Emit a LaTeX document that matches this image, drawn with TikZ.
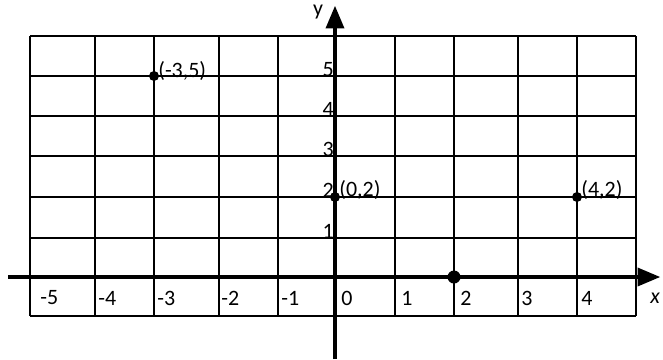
\documentclass[tikz,border=0pt]{standalone}
\usepackage{fontspec}
\setmainfont{Carlito}
\usepackage{tikz}
\usetikzlibrary{arrows}

\begin{document}
\begin{tikzpicture}[x=0.02cm,y=-0.02cm,
  gridline/.style={line width=1.05pt},
  axis/.style={line width=2pt,-triangle 45},
  lbl/.style={inner sep=0pt,font=\fontsize{12.5}{14}\selectfont},
  dot/.style={fill=black}]
\useasboundingbox (0,0) rectangle (663,359);
\foreach \x in {30,95,154,219,278,395,454,518,577,636}
  \draw[gridline] (\x,36) -- (\x,316);
\foreach \y in {36,76,116,156,197,238,316}
  \draw[gridline] (30,\y) -- (636,\y);
\draw[axis] (8,277) -- (660,277);
\draw[axis] (335,359) -- (335,6);
\node[lbl] (ylab) at (318,12) {y};
\node[lbl,anchor=west] (xlab) at (650,298) {\itshape x};
\foreach \x/\t in {40/-5,98/-4,157/-3,221/-2,281/-1,341/0,401/1,460/2,521/3,581/4}
  \node[lbl,anchor=west] at (\x,298) {\t};
\foreach \y/\t in {76/5,116/4,156/3,197/2,238/1}
  \node[lbl,anchor=base east] at (334,\y) {\t};
\fill[dot] (154,76) circle (5);
\fill[dot] (335,197) circle (5);
\fill[dot] (577,197) circle (5);
\fill[dot] (454,277) circle (6.5);
\node[lbl,anchor=west] (pa) at (158,71) {(-3,5)};
\node[lbl,anchor=west] (pb) at (339,190) {(0,2)};
\node[lbl,anchor=west] (pc) at (581,190) {(4,2)};
\end{tikzpicture}
\end{document}
